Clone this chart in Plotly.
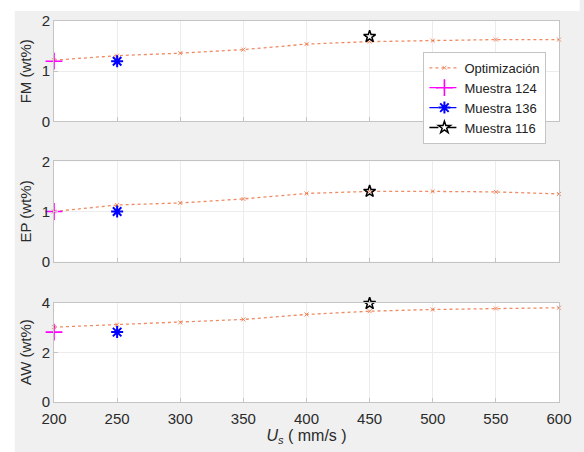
import plotly.graph_objects as go

us = [200, 250, 300, 350, 400, 450, 500, 550, 600]
fm_opt = [1.22, 1.31, 1.36, 1.43, 1.54, 1.59, 1.61, 1.63, 1.63]
ep_opt = [1.00, 1.13, 1.17, 1.25, 1.36, 1.40, 1.40, 1.39, 1.35]
aw_opt = [3.01, 3.11, 3.20, 3.32, 3.52, 3.65, 3.72, 3.76, 3.79]

m124_x = [200]
m136_x = [250]
m116_x = [450]
fm_m124 = [1.20]; fm_m136 = [1.20]; fm_m116 = [1.69]
ep_m124 = [1.00]; ep_m136 = [1.00]; ep_m116 = [1.40]
aw_m124 = [2.81]; aw_m136 = [2.81]; aw_m116 = [3.96]

panels = [
    ("FM (wt%)", fm_opt, fm_m124, fm_m136, fm_m116, [0, 2], [0, 1, 2]),
    ("EP (wt%)", ep_opt, ep_m124, ep_m136, ep_m116, [0, 2], [0, 1, 2]),
    ("AW (wt%)", aw_opt, aw_m124, aw_m136, aw_m116, [0, 4], [0, 2, 4]),
]

W, H = 584, 452
L, R, T, B = 54, 16, 19, 50
pw, ph = W - L - R, H - T - B
def py(y):
    return (H - B - y) / ph
def px(x):
    return (x - L) / pw

domains = [(py(120), py(19)), (py(261), py(160)), (py(402), py(302))]

FONT = "Liberation Sans, Arial, sans-serif"
TXT = "#2b2b2b"
ORANGE = "rgba(236,118,72,0.85)"
fig = go.Figure()

for i, (title, opt, m124, m136, m116, yr, yt) in enumerate(panels):
    n = "" if i == 0 else str(i + 1)
    xa, ya = "x" + n, "y" + n
    show = i == 0
    fig.add_trace(go.Scatter(x=us, y=opt, mode="lines+markers", name="Optimización",
                             line=dict(color=ORANGE, dash="dot", width=1.3),
                             marker=dict(symbol="x-thin-open", size=4, line=dict(color=ORANGE, width=1)),
                             xaxis=xa, yaxis=ya, showlegend=show, cliponaxis=False))
    fig.add_trace(go.Scatter(x=m124_x, y=m124, mode="lines+markers", name="Muestra 124",
                             line=dict(color="#ff00ff", dash="dash", width=1.3),
                             marker=dict(symbol="cross-thin-open", size=12, line=dict(color="#ff00ff", width=1.6)),
                             xaxis=xa, yaxis=ya, showlegend=show, cliponaxis=False))
    fig.add_trace(go.Scatter(x=m136_x, y=m136, mode="lines+markers", name="Muestra 136",
                             line=dict(color="#0000ff", dash="dash", width=1.3),
                             marker=dict(symbol="asterisk-open", size=10, line=dict(color="#0000ff", width=2)),
                             xaxis=xa, yaxis=ya, showlegend=show, cliponaxis=False))
    fig.add_trace(go.Scatter(x=m116_x, y=m116, mode="lines+markers", name="Muestra 116",
                             line=dict(color="#000000", dash="dash", width=1.3),
                             marker=dict(symbol="star-open", size=9, line=dict(color="#000000", width=1.5)),
                             xaxis=xa, yaxis=ya, showlegend=show, cliponaxis=False))
    axcommon = dict(showline=True, linecolor="#c4c4c4", linewidth=1, mirror=True,
                    gridcolor="#ececec", gridwidth=1, zeroline=False,
                    ticks="inside", ticklen=4, tickcolor="#c4c4c4",
                    tickfont=dict(family=FONT, size=15, color=TXT))
    fig.layout["xaxis" + n] = dict(axcommon, domain=[0, 1], anchor=ya, range=[200, 600],
                                   tickvals=us, showticklabels=(i == 2), ticklabelstandoff=3,
                                   title=dict(text="<i>U</i><sub><i>s</i></sub> ( mm/s )" if i == 2 else "",
                                              font=dict(family=FONT, size=16, color=TXT), standoff=2))
    fig.layout["yaxis" + n] = dict(axcommon, domain=list(domains[i]), anchor=xa, range=yr, tickvals=yt,
                                   title=dict(text=title, font=dict(family=FONT, size=15, color=TXT), standoff=6))

fig.update_layout(
    width=W, height=H, margin=dict(l=L, r=R, t=T, b=B),
    paper_bgcolor="#f0f0f0", plot_bgcolor="white",
    font=dict(family=FONT, color=TXT),
    legend=dict(x=px(430), y=py(50), xanchor="left", yanchor="top",
                bgcolor="white", bordercolor="#c4c4c4", borderwidth=1,
                font=dict(family=FONT, size=13, color="#222222"),
                tracegroupgap=0, itemwidth=30),
    shapes=[
        dict(type="rect", xref="paper", yref="paper", x0=px(-5), x1=px(W + 5), y0=py(9), y1=py(-5),
             fillcolor="white", line=dict(width=0), layer="below"),
        dict(type="rect", xref="paper", yref="paper", x0=px(-5), x1=px(14), y0=py(H + 5), y1=py(-5),
             fillcolor="white", line=dict(width=0), layer="below"),
    ],
)

fig.write_html("out.html")
